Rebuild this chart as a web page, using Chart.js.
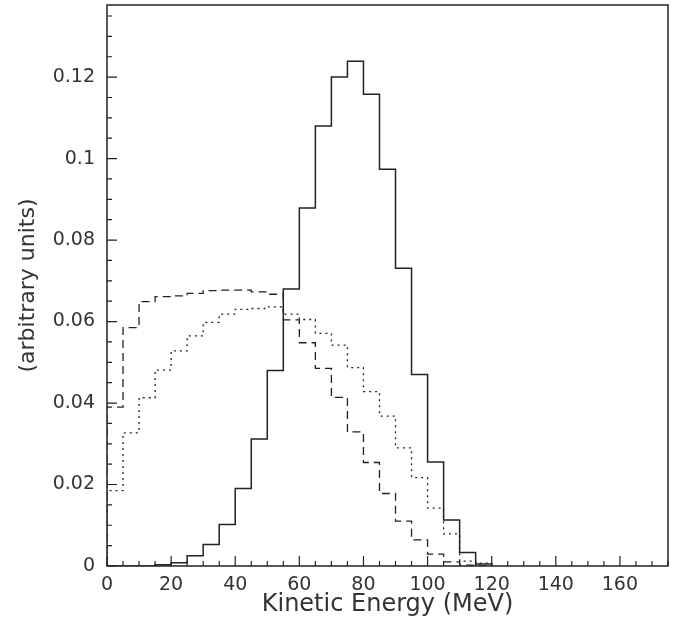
<!DOCTYPE html>
<html lang="en">
<head>
    <meta charset="UTF-8">
    <title>Kinetic Energy</title>
    <script src="https://cdn.jsdelivr.net/npm/chart.js"></script>
    <style>
        html, body { margin: 0; padding: 0; background: #fff; }
        #wrap { width: 682px; height: 629px; }
    </style>
</head>
<body>
    <div id="wrap"><canvas id="dataChart"></canvas></div>

    <script>
        // 5 MeV bins starting at 0
        const binWidth = 5;
        const solidValues = [0, 0, 0, 0.0003, 0.0008, 0.0025, 0.0053, 0.0102, 0.019, 0.0312,
            0.048, 0.068, 0.0879, 0.108, 0.120, 0.1239, 0.1158, 0.0974, 0.0731, 0.047,
            0.0255, 0.0113, 0.0033, 0.0005];
        const dashedValues = [0.039, 0.0585, 0.0649, 0.0661, 0.0663, 0.0669, 0.0676, 0.0677, 0.0677, 0.0673,
            0.0667, 0.0604, 0.0548, 0.0485, 0.0414, 0.0329, 0.0254, 0.0178, 0.011, 0.0064,
            0.0029, 0.001, 0.0002, 0];
        const dottedValues = [0.0185, 0.0327, 0.0413, 0.0481, 0.0528, 0.0565, 0.0598, 0.0618, 0.063, 0.0632,
            0.0636, 0.0618, 0.0605, 0.0571, 0.0542, 0.0487, 0.0428, 0.0368, 0.029, 0.0217,
            0.0142, 0.0079, 0.0012, 0.0007];
        const xTickLabels = [0, 20, 40, 60, 80, 100, 120, 140, 160];
        const yTickLabels = [0, 0.02, 0.04, 0.06, 0.08, 0.1, 0.12];
        const xMax = 175;
        const yMax = 0.1377;

        // bin edges -> step points
        function toSteps(values) {
            const pts = [{ x: 0, y: 0 }];
            values.forEach((v, i) => pts.push({ x: i * binWidth, y: v }));
            pts.push({ x: values.length * binWidth, y: 0 });
            return pts;
        }

        const fontFamily = "'DejaVu Sans', sans-serif";
        const ink = '#222';
        const textInk = '#333';

        // frame + inward ticks like the original plot
        const framePlugin = {
            id: 'frame',
            afterDraw(chart) {
                const { ctx, chartArea: a, scales } = chart;
                ctx.save();
                ctx.strokeStyle = ink;
                ctx.lineWidth = 1.5;
                ctx.strokeRect(a.left, a.top, a.right - a.left, a.bottom - a.top);
                ctx.lineWidth = 1.2;
                ctx.beginPath();
                for (let v = 0; v <= xMax; v += 5) {
                    const px = scales.x.getPixelForValue(v);
                    const len = v % 20 === 0 ? 10 : 5;
                    ctx.moveTo(px, a.bottom);
                    ctx.lineTo(px, a.bottom - len);
                }
                for (let k = 0; k * 0.005 <= yMax; k++) {
                    const py = scales.y.getPixelForValue(k * 0.005);
                    const len = k % 4 === 0 ? 10 : 5;
                    ctx.moveTo(a.left, py);
                    ctx.lineTo(a.left + len, py);
                }
                ctx.stroke();
                ctx.restore();
            }
        };

        const lineBase = { stepped: 'before', pointRadius: 0, fill: false, borderColor: ink };

        const ctx = document.getElementById('dataChart').getContext('2d');
        new Chart(ctx, {
            type: 'line',
            data: {
                datasets: [
                    { ...lineBase, label: 'solid', data: toSteps(solidValues), borderWidth: 1.5 },
                    { ...lineBase, label: 'dashed', data: toSteps(dashedValues), borderWidth: 1.3, borderDash: [8, 5] },
                    { ...lineBase, label: 'dotted', data: toSteps(dottedValues), borderWidth: 1.3, borderDash: [2, 4] }
                ]
            },
            options: {
                responsive: true,
                maintainAspectRatio: false,
                animation: false,
                layout: { padding: { left: 0, top: 5, right: 14, bottom: 0 } },
                plugins: {
                    legend: { display: false },
                    tooltip: { enabled: false }
                },
                scales: {
                    x: {
                        type: 'linear',
                        min: 0,
                        max: xMax,
                        grid: { display: false, drawTicks: false },
                        border: { display: false },
                        afterBuildTicks: scale => { scale.ticks = xTickLabels.map(v => ({ value: v })); },
                        afterFit: scale => {
                            scale.height = 63;
                            scale.paddingLeft = 0;
                            scale.paddingRight = 0;
                        },
                        ticks: {
                            padding: 8,
                            color: textInk,
                            font: { family: fontFamily, size: 19 },
                            maxRotation: 0
                        },
                        title: {
                            display: true,
                            text: 'Kinetic Energy (MeV)',
                            color: textInk,
                            font: { family: fontFamily, size: 24 },
                            padding: { top: 0, bottom: 10 }
                        }
                    },
                    y: {
                        min: 0,
                        max: yMax,
                        grid: { display: false, drawTicks: false },
                        border: { display: false },
                        afterBuildTicks: scale => { scale.ticks = yTickLabels.map(v => ({ value: v })); },
                        afterFit: scale => {
                            scale.width = 107;
                            scale.paddingTop = 0;
                            scale.paddingBottom = 0;
                        },
                        ticks: {
                            padding: 12,
                            color: textInk,
                            font: { family: fontFamily, size: 19 },
                            callback: v => String(Number(v.toFixed(3)))
                        },
                        title: {
                            display: true,
                            text: '(arbitrary units)',
                            color: textInk,
                            font: { family: fontFamily, size: 22 },
                            padding: { top: 15, bottom: 0 }
                        }
                    }
                }
            },
            plugins: [framePlugin]
        });
    </script>
</body>
</html>
